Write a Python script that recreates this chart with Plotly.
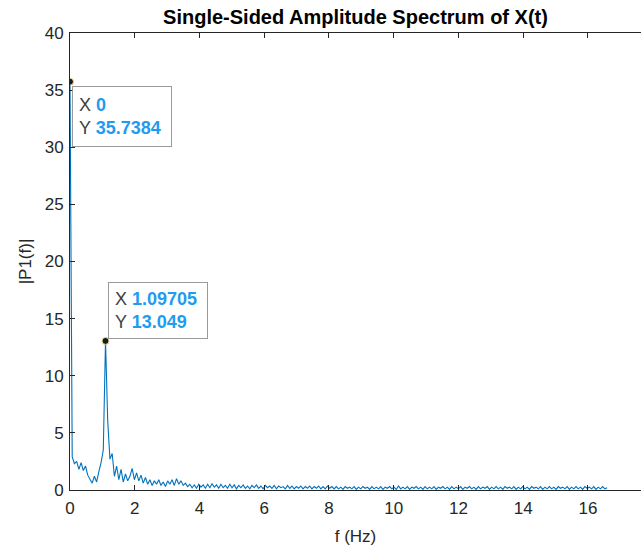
import plotly.graph_objects as go

# Frequency resolution of the one-sided FFT (Hz per bin)
df = 0.0685656

# |P1(f)| for bins 0..242
amp_0_59 = [
    35.7384, 2.9, 2.3, 2.5, 1.8, 2.4, 1.7, 2.1, 1.3, 1.0,
    0.6, 1.2, 0.7, 1.6, 2.4, 3.5, 13.049, 6.0, 2.7, 3.2,
    1.2, 2.1, 0.9, 1.8, 0.7, 1.4, 0.8, 1.2, 1.9, 0.9,
    1.5, 0.8, 1.3, 0.6, 1.1, 0.5, 0.9, 0.4, 0.8, 0.5,
    0.9, 0.4, 0.7, 0.3, 0.8, 0.5, 0.9, 0.4, 1.0, 0.5,
    0.8, 0.4, 0.6, 0.3, 0.5, 0.2, 0.45, 0.15, 0.5, 0.25,
]
amp_60_119 = [
    0.45, 0.15, 0.5, 0.2, 0.55, 0.25, 0.45, 0.15, 0.5, 0.2,
    0.4, 0.15, 0.5, 0.2, 0.45, 0.1, 0.4, 0.2, 0.45, 0.15,
    0.35, 0.1, 0.4, 0.2, 0.45, 0.15, 0.35, 0.1, 0.4, 0.2,
    0.35, 0.15, 0.4, 0.1, 0.35, 0.2, 0.3, 0.1, 0.4, 0.15,
    0.35, 0.1, 0.3, 0.15, 0.35, 0.1, 0.3, 0.15, 0.35, 0.1,
    0.3, 0.15, 0.35, 0.1, 0.3, 0.1, 0.35, 0.15, 0.3, 0.1,
]
amp_120_242 = [
    0.3, 0.1, 0.25, 0.05, 0.3, 0.15, 0.25, 0.1, 0.3, 0.05,
    0.25, 0.1, 0.3, 0.15, 0.25, 0.05, 0.3, 0.1, 0.25, 0.1,
    0.3, 0.05, 0.25, 0.15, 0.3, 0.1, 0.25, 0.05, 0.35, 0.1,
    0.25, 0.1, 0.3, 0.05, 0.25, 0.15, 0.3, 0.1, 0.25, 0.05,
    0.3, 0.1, 0.25, 0.1, 0.3, 0.05, 0.25, 0.15, 0.3, 0.1,
    0.25, 0.05, 0.3, 0.1, 0.25, 0.1, 0.3, 0.05, 0.25, 0.15,
    0.3, 0.1, 0.25, 0.05, 0.3, 0.1, 0.25, 0.15, 0.3, 0.05,
    0.25, 0.1, 0.3, 0.1, 0.25, 0.05, 0.3, 0.15, 0.25, 0.1,
    0.3, 0.05, 0.25, 0.1, 0.3, 0.1, 0.25, 0.05, 0.3, 0.15,
    0.25, 0.1, 0.3, 0.05, 0.25, 0.1, 0.3, 0.1, 0.25, 0.05,
    0.3, 0.15, 0.25, 0.1, 0.3, 0.05, 0.25, 0.1, 0.3, 0.1,
    0.25, 0.05, 0.3, 0.15, 0.25, 0.1, 0.3, 0.05, 0.25, 0.1,
    0.3, 0.1, 0.2,
]
P1 = amp_0_59 + amp_60_119 + amp_120_242
freq = [df * k for k in range(len(P1))]

# Data tips (bin indices)
tip_bins = [0, 16]

x_ticks = [0, 2, 4, 6, 8, 10, 12, 14, 16]
y_ticks = [0, 5, 10, 15, 20, 25, 30, 35, 40]

AX = "#262626"
LINE = "#0072BD"
TIPBLUE = "#1f9bef"
FONT = "Liberation Sans, Arial, sans-serif"

fig = go.Figure()
fig.add_trace(go.Scatter(x=freq, y=P1, mode="lines",
                         line=dict(color=LINE, width=1.1), showlegend=False,
                         hoverinfo="skip"))
fig.add_trace(go.Scatter(x=[freq[i] for i in tip_bins], y=[P1[i] for i in tip_bins],
                         mode="markers", showlegend=False, hoverinfo="skip",
                         marker=dict(color="#1a1a1a", size=7,
                                     line=dict(color="#e8e0a0", width=1))))


def tip_text(i):
    return (f"X <b><span style='color:{TIPBLUE}'>{freq[i]:.6g}</span></b><br>"
            f"Y <b><span style='color:{TIPBLUE}'>{P1[i]:.6g}</span></b>")


tip_style = dict(xref="x", yref="y", showarrow=False, align="left",
                 bgcolor="rgba(255,255,255,0.92)", bordercolor="#9a9a9a",
                 borderwidth=1, borderpad=6, width=86,
                 font=dict(family=FONT, size=18, color="#404040"))

fig.add_annotation(x=freq[0], y=P1[0], text=tip_text(0), xanchor="left",
                   yanchor="top", xshift=2, yshift=-4, height=47, **tip_style)
fig.add_annotation(x=freq[16], y=P1[16], text=tip_text(16), xanchor="left",
                   yanchor="bottom", xshift=2, yshift=2, height=43, **tip_style)

fig.update_layout(
    width=641, height=546,
    margin=dict(l=70, r=0, t=33, b=56),
    paper_bgcolor="white", plot_bgcolor="white",
    font=dict(family=FONT, size=17, color=AX),
    title=dict(text="<b>Single-Sided Amplitude Spectrum of X(t)</b>",
               xref="paper", x=0.5, xanchor="center",
               yref="container", y=1 - 17 / 546, yanchor="middle",
               font=dict(family=FONT, size=20, color="black")),
)
fig.update_xaxes(range=[0, 17.64], tickvals=x_ticks, ticktext=[str(v) for v in x_ticks],
                 showgrid=False, zeroline=False, showline=True, linecolor=AX,
                 linewidth=1, mirror="ticks", ticks="inside", ticklen=5,
                 tickcolor=AX, tickfont=dict(size=17, color=AX), ticklabelstandoff=3,
                 title=dict(text="f (Hz)", font=dict(size=17, color=AX), standoff=16))
fig.update_yaxes(range=[0, 40], tickvals=y_ticks, ticktext=[str(v) for v in y_ticks],
                 showgrid=False, zeroline=False, showline=True, linecolor=AX,
                 linewidth=1, mirror=False, ticks="inside", ticklen=5,
                 tickcolor=AX, tickfont=dict(size=17, color=AX), ticklabelstandoff=2,
                 title=dict(text="|P1(f)|", font=dict(size=17, color=AX), standoff=8))

fig.write_html("out.html")
